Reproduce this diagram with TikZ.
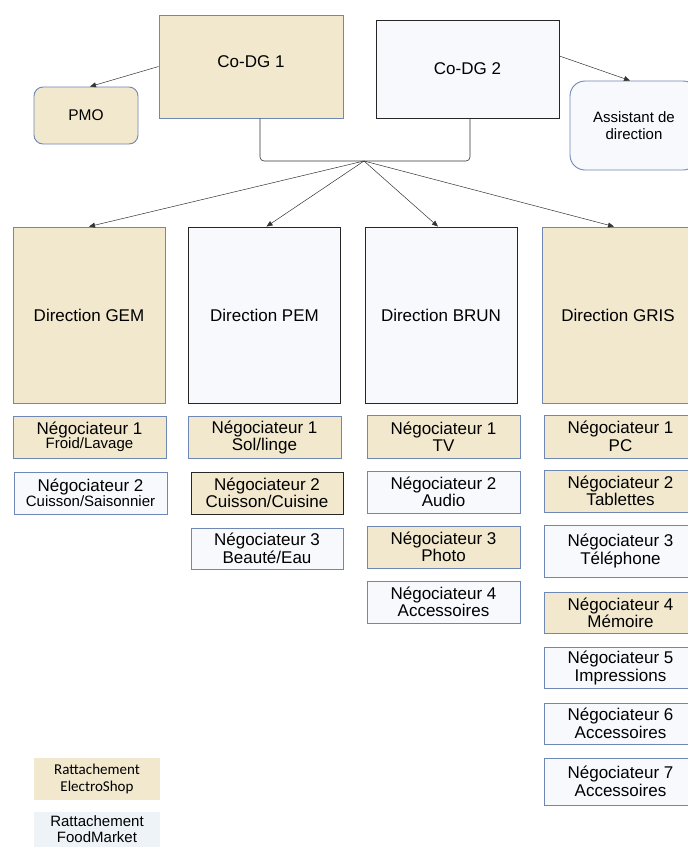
\documentclass[tikz,border=0pt]{standalone}
\usepackage{fontspec}
\setmainfont{Liberation Sans}
\newfontfamily\calib{Carlito}
\usetikzlibrary{arrows.meta,positioning}
\definecolor{tan}{HTML}{F2E8CE}
\definecolor{lite}{HTML}{F7F9FD}
\definecolor{blueb}{HTML}{6F87B5}
\definecolor{legl}{HTML}{EEF3F8}
\definecolor{conn}{HTML}{333333}
\tikzset{
  box/.style={draw=blueb, line width=0.9pt, align=center, inner sep=0pt,
    font=\fontsize{17}{17.5}\selectfont},
  tanbox/.style={box, fill=tan},
  litebox/.style={box, fill=lite},
  blk/.style={draw=black!85},
  negbox/.style={minimum width=153pt, minimum height=42pt},
  dirbox/.style={minimum width=152pt, minimum height=176pt},
  arr/.style={draw=conn, line width=0.5pt, -{Triangle[length=6pt,width=5pt]}},
  legbox/.style={draw=none, align=center, inner sep=0pt, minimum width=126pt, minimum height=42pt}
}
\begin{document}
\begin{tikzpicture}[x=1pt,y=-1pt]
\useasboundingbox (0,0) rectangle (688,847);
\clip (0,0) rectangle (688,847);
\fill[white] (0,0) rectangle (688,847);

% top level
\node[tanbox, minimum width=184pt, minimum height=103pt] (cdg1) at (251,66.5) {\raisebox{9pt}{Co-DG 1}};
\node[litebox, blk, minimum width=183pt, minimum height=98pt] (cdg2) at (467.5,69) {Co-DG 2};
\node[tanbox, rounded corners=9pt, minimum width=104pt, minimum height=57pt,
  font=\fontsize{15.5}{17}\selectfont] (pmo) at (86,115.5) {PMO};
\node[litebox, rounded corners=15pt, minimum width=128pt, minimum height=89pt,
  font=\fontsize{15}{17}\selectfont] (asst) at (634,125.5) {Assistant de\\direction};

\draw[arr] (cdg1.west) -- ([xshift=4pt]pmo.north);
\draw[arr] ([yshift=13pt]cdg2.east) -- ([xshift=-4pt]asst.north);

% bracket
\coordinate (j) at (364,161);
\draw[draw=conn, line width=0.6pt, rounded corners=4pt]
  ([xshift=9pt]cdg1.south) |- (j) -| ([xshift=2.5pt]cdg2.south);

% directions
\node[tanbox, dirbox] (gem) at (89,315) {Direction GEM};
\node[litebox, blk, dirbox] (pem) at (264.5,315) {Direction PEM};
\node[litebox, blk, dirbox] (brun) at (441,315) {Direction BRUN};
\node[tanbox, dirbox] (gris) at (618,315) {Direction GRIS};

\draw[arr] (j) -- (gem.north);
\draw[arr] (j) -- ([xshift=2pt]pem.north);
\draw[arr] (j) -- ([xshift=-3pt]brun.north);
\draw[arr] (j) -- ([xshift=-4pt]gris.north);

% GEM
\node[tanbox, negbox] (gem1) at (89.5,437) {Négociateur 1\\[-3pt]{\fontsize{15}{15}\selectfont Froid/Lavage}};
\node[litebox, negbox] (gem2) at (90.5,493) {Négociateur 2\\[-3pt]{\fontsize{15}{15}\selectfont Cuisson/Saisonnier}};

% PEM
\node[tanbox, negbox] (pem1) at (264.5,437.5) {Négociateur 1\\Sol/linge};
\node[tanbox, blk, negbox, minimum width=152pt] (pem2) at (267,493) {Négociateur 2\\Cuisson/Cuisine};
\node[litebox, negbox, minimum width=152pt, minimum height=41pt] (pem3) at (267,548.5) {Négociateur 3\\Beauté/Eau};

% BRUN
\node[tanbox, negbox, minimum height=43pt] (brun1) at (443.5,436.5) {Négociateur 1\\TV};
\node[litebox, negbox] (brun2) at (443.5,492) {Négociateur 2\\Audio};
\node[tanbox, negbox] (brun3) at (443.5,547) {Négociateur 3\\Photo};
\node[litebox, negbox] (brun4) at (443.5,602) {Négociateur 4\\Accessoires};

% GRIS
\node[tanbox, negbox, minimum height=43pt] (gris1) at (620.5,436.5) {Négociateur 1\\PC};
\node[tanbox, negbox] (gris2) at (620.5,491) {Négociateur 2\\Tablettes};
\node[litebox, negbox, minimum height=52pt] (gris3) at (620.5,551) {Négociateur 3\\Téléphone};
\node[tanbox, negbox, minimum height=41pt] (gris4) at (620.5,613) {Négociateur 4\\Mémoire};
\node[litebox, negbox, minimum height=41pt] (gris5) at (620.5,668) {Négociateur 5\\Impressions};
\node[litebox, negbox, minimum height=41pt] (gris6) at (620.5,723.5) {Négociateur 6\\Accessoires};
\node[litebox, negbox, minimum height=47pt] (gris7) at (620.5,781.5) {Négociateur 7\\Accessoires};

% legend
\node[legbox, fill=tan, font=\calib\fontsize{15}{17.5}\selectfont] (leg1) at (97,779) {Rattachement\\ElectroShop};
\node[legbox, fill=legl] (leg2) at (97,833) {};
\node[align=center, inner sep=0pt, font=\fontsize{15}{15.5}\selectfont, anchor=north] (leg2t) at ([yshift=-4pt]leg2.north) {Rattachement\\FoodMarket};
\end{tikzpicture}
\end{document}
